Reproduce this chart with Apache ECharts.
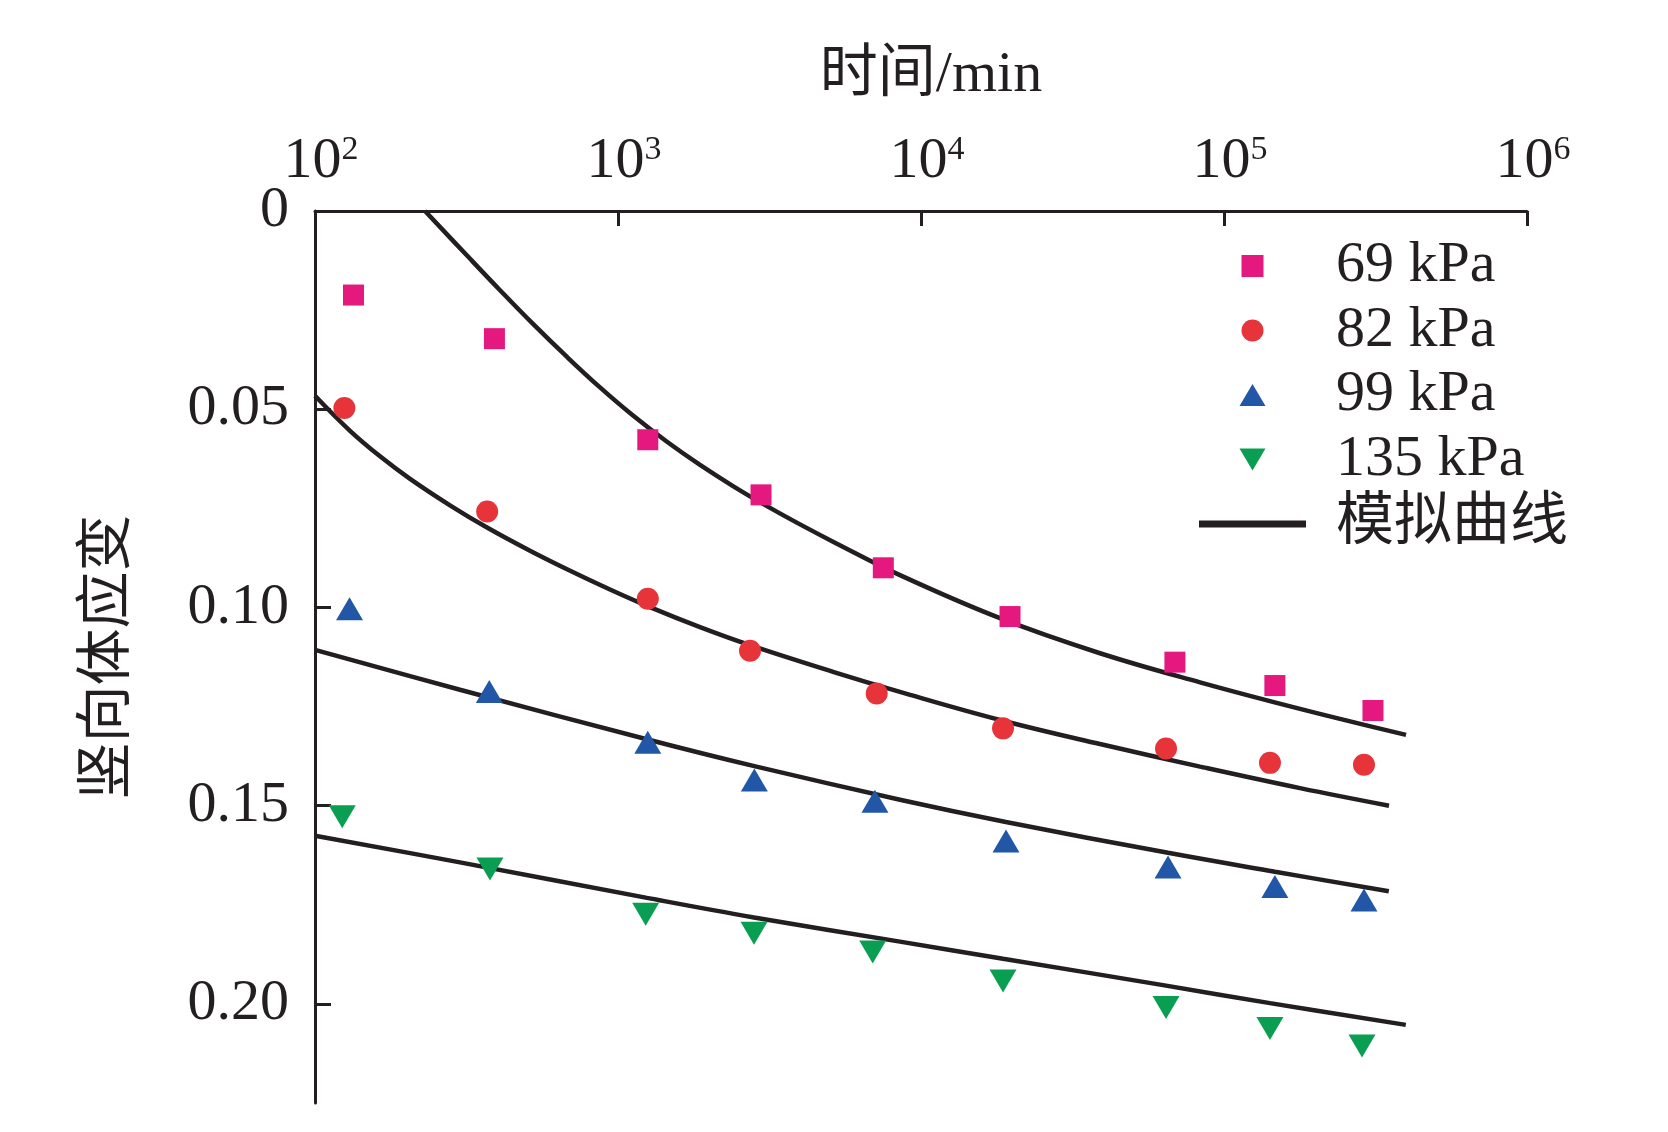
<!DOCTYPE html>
<html>
<head>
<meta charset="utf-8">
<title>竖向体应变</title>
<script src="https://cdn.jsdelivr.net/npm/echarts@6.0.0/dist/echarts.min.js"></script>
<style>
  html, body { margin: 0; padding: 0; background: #fff; }
  #chart { width: 1668px; height: 1132px; }
</style>
</head>
<body>
<div id="chart"></div>
<script>
// ==============================================================
// measured points (time in min, vertical strain)
// ==============================================================
var times69 = [134, 391, 1254, 2965, 7510, 19670, 68870, 147200, 310200];
var strain69 = [0.0212, 0.0322, 0.0577, 0.0716, 0.0900, 0.1023, 0.1138, 0.1197, 0.1260];

var times82 = [125, 370, 1254, 2727, 7141, 18650, 64370, 141800, 289700];
var strain82 = [0.0497, 0.0758, 0.0978, 0.1109, 0.1217, 0.1305, 0.1356, 0.1392, 0.1397];

var times99 = [130, 376, 1254, 2818, 7047, 19080, 65350, 147200, 289700];
var strain99 = [0.1003, 0.1212, 0.1340, 0.1435, 0.1489, 0.1589, 0.1655, 0.1704, 0.1738];

var times135 = [123, 378, 1234, 2811, 6928, 18650, 64370, 141800, 285400];
var strain135 = [0.1528, 0.1660, 0.1774, 0.1822, 0.1869, 0.1942, 0.2009, 0.2062, 0.2106];

// fitted curves (模拟曲线)
var fitTimes69 = [230.7, 317.5, 408, 524.2, 678.8, 872.1, 1121, 1451, 1865, 2396, 3102, 3988, 5124, 8523, 18230, 38980, 83340, 178200, 398800];
var fitStrain69 = [0, 0.01124, 0.01998, 0.02849, 0.03682, 0.04450, 0.05160, 0.05821, 0.06405, 0.06938, 0.07445, 0.07905, 0.08340, 0.09185, 0.10271, 0.11155, 0.11888, 0.12557, 0.13214];

var fitTimes82 = [100, 130.5, 163.9, 205.9, 278.9, 369.6, 512.4, 678.8, 941, 1275, 1865, 2727, 5124, 8523, 18650, 38980, 83340, 178200, 350400];
var fitStrain82 = [0.04660, 0.05544, 0.06188, 0.06756, 0.07423, 0.07983, 0.08569, 0.09036, 0.09547, 0.09991, 0.10496, 0.10951, 0.11623, 0.12130, 0.12858, 0.13446, 0.14014, 0.14557, 0.15000];

var fitTimes99 = [100, 300.9, 1253, 2818, 8523, 19060, 65350, 147300, 349900];
var fitStrain99 = [0.11070, 0.12077, 0.13332, 0.14004, 0.14850, 0.15411, 0.16189, 0.16666, 0.17161];

var fitTimes135 = [100, 300.9, 1234, 2811, 8523, 18650, 64370, 141800, 398100];
var fitStrain135 = [0.1576, 0.1643, 0.1732, 0.1782, 0.1843, 0.1886, 0.1954, 0.1998, 0.2053];

var yTicks = [0, 0.05, 0.10, 0.15, 0.20];

function pairs(xs, ys) {
  return xs.map(function (x, i) { return [x, ys[i]]; });
}

var ink = '#231f20';
var serif = '"Liberation Serif", "Times New Roman", "Noto Sans CJK SC", serif';

var myChart = echarts.init(document.getElementById('chart'));

function fitLine(xs, ys) {
  return {
    name: '模拟曲线',
    type: 'line',
    smooth: 0.4,
    symbol: 'none',
    lineStyle: { color: ink, width: 4.5 },
    itemStyle: { color: ink },
    data: pairs(xs, ys),
    z: 2
  };
}

option = {
  animation: false,
  backgroundColor: '#fff',
  grid: { left: 315, top: 211, width: 1212, height: 892 },
  xAxis: {
    type: 'log',
    logBase: 10,
    min: 100,
    max: 1000000,
    position: 'top',
    name: '时间/min',
    nameLocation: 'middle',
    nameGap: 106,
    nameTextStyle: { fontFamily: serif, fontSize: 58, color: ink, padding: [0, 0, 0, 20] },
    axisLine: { lineStyle: { color: ink, width: 3 } },
    axisTick: { inside: true, length: 15, lineStyle: { color: ink, width: 3 } },
    minorTick: { show: false },
    splitLine: { show: false },
    axisLabel: {
      margin: 20,
      padding: [0, 0, 0, 12],
      formatter: function (v) {
        var e = Math.round(Math.log(v) / Math.LN10);
        return '{b|10}{s|' + e + '}';
      },
      rich: {
        b: { fontSize: 58, fontFamily: serif, color: ink },
        s: { fontSize: 34, fontFamily: serif, color: ink, verticalAlign: 'top' }
      }
    }
  },
  yAxis: {
    type: 'value',
    inverse: true,
    min: 0,
    max: 0.225,
    interval: 0.05,
    name: '竖向体应变',
    nameLocation: 'middle',
    nameRotate: 90,
    nameGap: 177,
    nameTextStyle: { fontFamily: serif, fontSize: 57, color: ink },
    axisLine: { show: true, lineStyle: { color: ink, width: 3 } },
    axisTick: { show: true, inside: true, length: 16, customValues: yTicks, lineStyle: { color: ink, width: 3 } },
    splitLine: { show: false },
    axisLabel: {
      customValues: yTicks,
      margin: 26,
      fontSize: 58,
      fontFamily: serif,
      color: ink,
      formatter: function (v) { return v === 0 ? '0' : v.toFixed(2); }
    }
  },
  legend: {
    orient: 'vertical',
    left: 1194,
    top: 231,
    itemWidth: 107,
    itemHeight: 22,
    itemGap: 4.5,
    textStyle: { fontFamily: serif, fontSize: 58, color: ink, lineHeight: 60, padding: [0, 0, 0, 25] },
    data: ['69 kPa', '82 kPa', '99 kPa', '135 kPa', { name: '模拟曲线', icon: 'path://M0,0H107V7H0Z' }]
  },
  series: [
    {
      name: '69 kPa', type: 'scatter', symbol: 'path://M0,0H20V20H0Z', symbolSize: 21,
      itemStyle: { color: '#e4187e', opacity: 1 }, data: pairs(times69, strain69), z: 3
    },
    {
      name: '82 kPa', type: 'scatter', symbol: 'circle', symbolSize: 22,
      itemStyle: { color: '#e7343b', opacity: 1 }, data: pairs(times82, strain82), z: 3
    },
    {
      name: '99 kPa', type: 'scatter', symbol: 'path://M13,0L26,22L0,22Z', symbolSize: [27, 23],
      itemStyle: { color: '#2257a7', opacity: 1 }, data: pairs(times99, strain99), z: 3
    },
    {
      name: '135 kPa', type: 'scatter', symbol: 'path://M0,0L26,0L13,22Z', symbolSize: [27, 23],
      itemStyle: { color: '#0a9e52', opacity: 1 }, data: pairs(times135, strain135), z: 3
    },
    fitLine(fitTimes69, fitStrain69),
    fitLine(fitTimes82, fitStrain82),
    fitLine(fitTimes99, fitStrain99),
    fitLine(fitTimes135, fitStrain135)
  ]
};

myChart.setOption(option, true);
</script>
</body>
</html>
